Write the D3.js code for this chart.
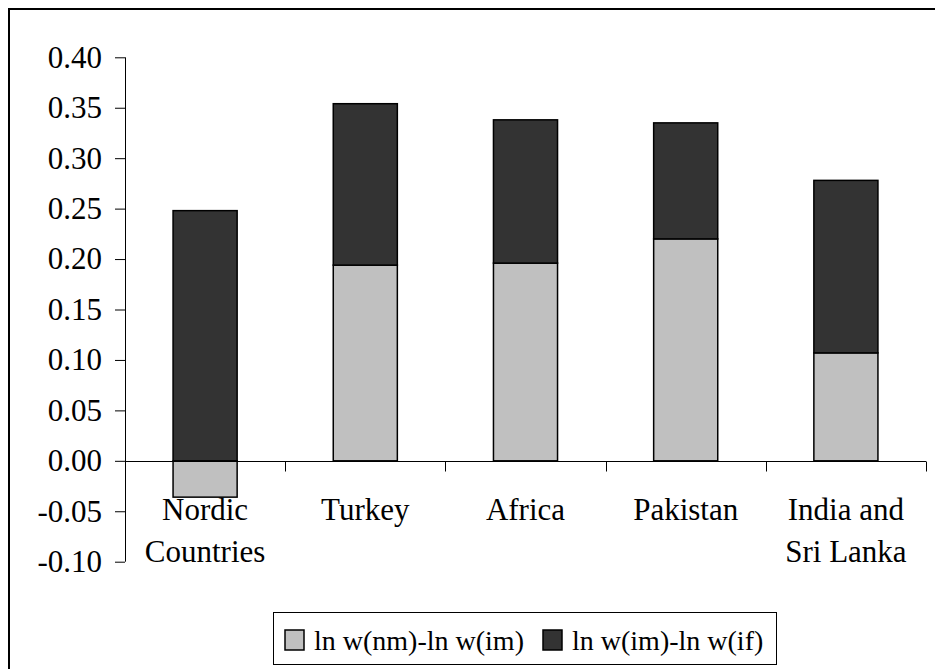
<!DOCTYPE html>
<html>
<head>
<meta charset="utf-8">
<script src="https://cdn.jsdelivr.net/npm/d3@7/dist/d3.min.js"></script>
<style>
  html, body { margin: 0; padding: 0; background: #fff; }
  svg { display: block; }
  text { font-family: "Liberation Serif", "Times New Roman", serif; fill: #000; }
</style>
</head>
<body>
<svg id="chart" width="935" height="669"></svg>
<script>
// ---- Data ----
const categories = [["Nordic", "Countries"], ["Turkey"], ["Africa"], ["Pakistan"], ["India and", "Sri Lanka"]];
const seriesNames = ["ln w(nm)-ln w(im)", "ln w(im)-ln w(if)"];
const seriesLight = [-0.036, 0.194, 0.196, 0.220, 0.107];
const seriesDark = [0.248, 0.160, 0.142, 0.115, 0.171];
const yTicks = [-0.10, -0.05, 0.00, 0.05, 0.10, 0.15, 0.20, 0.25, 0.30, 0.35, 0.40];
const colors = ["#C0C0C0", "#333333"];

const svg = d3.select("#chart");

// outer chart border (extends past the bottom/right edges)
svg.append("rect")
  .attr("x", 9).attr("y", 9)
  .attr("width", 960).attr("height", 700)
  .attr("fill", "#fff").attr("stroke", "#000").attr("stroke-width", 2);

const plotLeft = 125, plotRight = 926, plotTop = 57.3, plotBottom = 561.7;

const y = d3.scaleLinear().domain([-0.10, 0.40]).range([plotBottom, plotTop]);
const keys = categories.map((c, i) => i);
const x = d3.scaleBand().domain(keys).range([plotLeft, plotRight]).paddingInner(0).paddingOuter(0);
const barW = x.bandwidth() * 0.4;

// stacked values (Excel-style: positives stack up from 0, negatives stack down from 0)
const rows = keys.map(i => {
  const vals = [seriesLight[i], seriesDark[i]];
  let pos = 0, neg = 0;
  return vals.map((v, s) => {
    let y0, y1;
    if (v >= 0) { y0 = pos; y1 = pos + v; pos = y1; }
    else { y0 = neg; y1 = neg + v; neg = y1; }
    return { i, s, y0, y1 };
  });
});

const barsG = svg.append("g");
rows.forEach(r => r.forEach(d => {
  const cx = x(d.i) + x.bandwidth() / 2;
  barsG.append("rect")
    .attr("x", cx - barW / 2)
    .attr("y", y(Math.max(d.y0, d.y1)))
    .attr("width", barW)
    .attr("height", Math.abs(y(d.y0) - y(d.y1)))
    .attr("fill", colors[d.s])
    .attr("stroke", "#000")
    .attr("stroke-width", 1.5);
}));

// Y axis
const fmt = d3.format(".2f");
const yAxis = d3.axisLeft(y).tickValues(yTicks)
  .tickFormat(d => fmt(d).replace("\u2212", "-"))
  .tickSize(10).tickPadding(13);
const yG = svg.append("g").attr("transform", `translate(${plotLeft},0)`).call(yAxis);
yG.select(".domain").remove();
yG.selectAll(".tick line").attr("stroke", "#000");
yG.selectAll(".tick text")
  .style("font-family", '"Liberation Serif", "Times New Roman", serif')
  .style("font-size", "31px")
  .attr("fill", "#000");
svg.append("line")
  .attr("x1", plotLeft + 0.5).attr("x2", plotLeft + 0.5)
  .attr("y1", y(0.40)).attr("y2", y(-0.10))
  .attr("stroke", "#000");

// X axis at zero
const y0px = Math.round(y(0)) + 0.5;
svg.append("line")
  .attr("x1", plotLeft).attr("x2", plotRight)
  .attr("y1", y0px).attr("y2", y0px)
  .attr("stroke", "#000");
const boundaries = keys.map(i => x(i) + x.bandwidth());
svg.selectAll(".xtick").data(boundaries).enter().append("line")
  .attr("x1", d => Math.round(d) + 0.5).attr("x2", d => Math.round(d) + 0.5)
  .attr("y1", y0px).attr("y2", y0px + 10)
  .attr("stroke", "#000");

// category labels
categories.forEach((lines, i) => {
  const cx = x(i) + x.bandwidth() / 2;
  const t = svg.append("text")
    .attr("text-anchor", "middle")
    .style("font-size", "31px");
  lines.forEach((ln, k) => {
    t.append("tspan").attr("x", cx).attr("y", 520 + k * 42).text(ln);
  });
});

// legend
const lg = svg.append("g");
lg.append("rect")
  .attr("x", 273.5).attr("y", 612.5).attr("width", 503).attr("height", 52)
  .attr("fill", "#fff").attr("stroke", "#000").attr("stroke-width", 1);
const legendItems = [
  { sx: 285, tx: 314 },
  { sx: 543, tx: 572 }
];
legendItems.forEach((it, s) => {
  lg.append("rect")
    .attr("x", it.sx).attr("y", 630).attr("width", 19).attr("height", 20)
    .attr("fill", colors[s]).attr("stroke", "#000").attr("stroke-width", 1.5);
  lg.append("text")
    .attr("x", it.tx).attr("y", 650)
    .style("font-size", "28px")
    .text(seriesNames[s]);
});
</script>
</body>
</html>
